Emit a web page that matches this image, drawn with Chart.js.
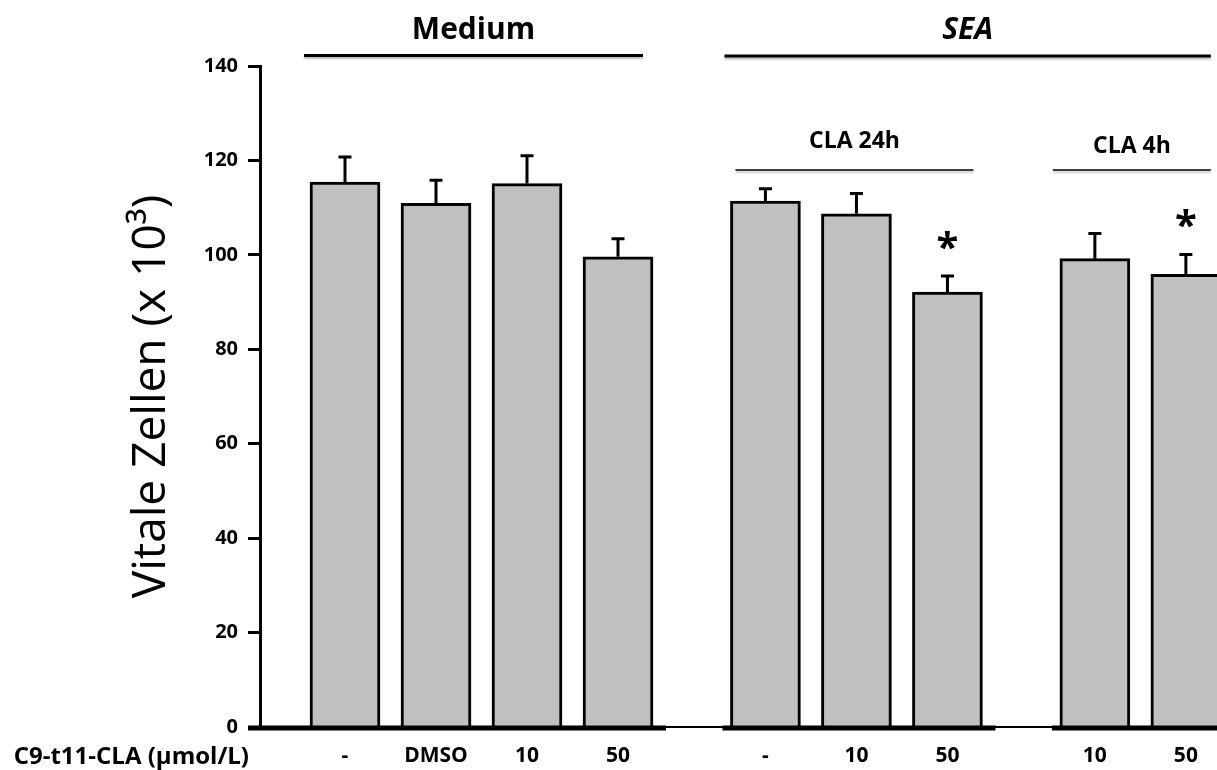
<!DOCTYPE html>
<html>
<head>
<meta charset="utf-8">
<title>Vitale Zellen</title>
<script src="https://cdn.jsdelivr.net/npm/chart.js@4.4.1/dist/chart.umd.min.js"></script>
<style>
  html, body { margin: 0; padding: 0; background: #ffffff; overflow: hidden; }
  #wrap { position: relative; width: 1217px; height: 770px; }
  canvas { display: block; }
</style>
</head>
<body>
<div id="wrap"><canvas id="chart" width="1217" height="770"></canvas></div>
<script>
// C9-t11-CLA dose under each bar
const doseLabels = ['-', 'DMSO', '10', '50', '-', '10', '50', '10', '50'];
// bars per treatment block: Medium | SEA + CLA 24h | SEA + CLA 4h
const blockSizes = [4, 3, 2];
// vital cells (x 10^3): mean and SD
const meanValues = [115.4, 110.9, 115.1, 99.6, 111.4, 108.7, 92.1, 99.2, 95.9];
const sdValues = [5.3, 4.9, 5.9, 3.8, 2.6, 4.3, 3.4, 5.3, 4.2];
// marked with * (significant)
const significant = [false, false, false, false, false, false, true, false, true];
// y axis ticks
const yTicks = [0, 20, 40, 60, 80, 100, 120, 140];
// group headings
const headerTexts = ['Medium', 'SEA', 'CLA 24h', 'CLA 4h'];
const axisCaption = 'C9-t11-CLA (µmol/L)';

// bar slots along the x axis: unit spacing inside a block, wider gap between blocks
const BLOCK_GAP = 0.62;
const xPos = [];
const blockRanges = [];
(function () {
  let cursor = 0, idx = 0;
  blockSizes.forEach(n => {
    blockRanges.push([idx, idx + n - 1]);
    for (let i = 0; i < n; i++) { xPos.push(cursor); cursor += 1; idx++; }
    cursor += BLOCK_GAP;
  });
})();

const FONT = '"Open Sans", "DejaVu Sans", sans-serif';

// heading layout: which bars each heading spans, and how it is styled
const headers = [
  { text: headerTexts[0], from: 0, to: 3, padL: 41, padR: 25, lineY: 55.5, textY: 39, lineW: 3, font: 'bold 30px ' + FONT },
  { text: headerTexts[1], from: 4, to: 8, padL: 41, padR: 25, lineY: 56, textY: 39, lineW: 3, font: 'italic bold 30px ' + FONT },
  { text: headerTexts[2], from: 4, to: 6, padL: 30, padR: 26, lineY: 170, textY: 148, lineW: 1.6, font: 'bold 23px ' + FONT },
  { text: headerTexts[3], from: 7, to: 8, padL: 42, padR: 25, lineY: 170, textY: 153, lineW: 1.6, font: 'bold 23px ' + FONT }
];

const decorations = {
  id: 'decorations',
  afterDatasetsDraw(chart) {
    const ctx = chart.ctx;
    const xs = chart.scales.x;
    const ys = chart.scales.y;
    const area = chart.chartArea;
    const meta = chart.getDatasetMeta(0);

    ctx.save();
    // error bars (upper SD) and significance stars
    ctx.strokeStyle = '#000';
    ctx.fillStyle = '#000';
    ctx.lineWidth = 3;
    ctx.lineCap = 'butt';
    meta.data.forEach((bar, i) => {
      const x = bar.x;
      const yMean = ys.getPixelForValue(meanValues[i]);
      const yTop = ys.getPixelForValue(meanValues[i] + sdValues[i]);
      ctx.beginPath();
      ctx.moveTo(x, yMean);
      ctx.lineTo(x, yTop);
      ctx.moveTo(x - 6.5, yTop);
      ctx.lineTo(x + 6.5, yTop);
      ctx.stroke();
      if (significant[i]) {
        ctx.font = 'bold 40px ' + FONT;
        const m = ctx.measureText('*');
        const cy = yTop - 36;
        ctx.textAlign = 'center';
        ctx.textBaseline = 'alphabetic';
        ctx.fillText('*', x, cy + (m.actualBoundingBoxAscent + m.actualBoundingBoxDescent) / 2 - m.actualBoundingBoxDescent);
      }
    });

    // heavy baseline under each block of bars
    ctx.lineWidth = 5;
    blockRanges.forEach(([a, b], k) => {
      const x1 = k === 0 ? area.left - 12 : xs.getPixelForValue(xPos[a]) - 43;
      const x2 = k === blockRanges.length - 1 ? chart.width : xs.getPixelForValue(xPos[b]) + 48;
      ctx.beginPath();
      ctx.moveTo(x1, area.bottom + 1);
      ctx.lineTo(x2, area.bottom + 1);
      ctx.stroke();
    });

    // group headings with their rules
    headers.forEach(h => {
      const x1 = xs.getPixelForValue(xPos[h.from]) - h.padL;
      const x2 = xs.getPixelForValue(xPos[h.to]) + h.padR;
      ctx.save();
      ctx.shadowColor = 'rgba(0,0,0,0.28)';
      ctx.shadowBlur = 2;
      ctx.shadowOffsetY = 2;
      ctx.lineWidth = h.lineW;
      ctx.beginPath();
      ctx.moveTo(x1, h.lineY);
      ctx.lineTo(x2, h.lineY);
      ctx.stroke();
      ctx.restore();
      ctx.font = h.font;
      ctx.textAlign = 'center';
      ctx.textBaseline = 'alphabetic';
      ctx.fillText(h.text, (x1 + x2) / 2, h.textY);
    });

    // caption for the dose row
    ctx.font = 'bold 24px ' + FONT;
    ctx.textAlign = 'right';
    ctx.textBaseline = 'alphabetic';
    ctx.fillText(axisCaption, 249, 764);
    ctx.restore();
  }
};

new Chart(document.getElementById('chart'), {
  type: 'bar',
  data: {
    datasets: [{
      data: meanValues.map((v, i) => ({ x: xPos[i], y: v })),
      backgroundColor: '#c0c0c0',
      borderColor: '#000000',
      borderWidth: 3,
      borderSkipped: 'start',
      barThickness: 70
    }]
  },
  options: {
    responsive: false,
    animation: false,
    devicePixelRatio: 1,
    layout: { padding: { top: 66, left: 0, right: 0, bottom: 0 } },
    plugins: { legend: { display: false }, tooltip: { enabled: false } },
    scales: {
      x: {
        type: 'linear',
        min: -0.934,
        max: 9.582,
        offset: false,
        grid: { display: false, drawTicks: false },
        border: { display: true, color: '#000', width: 2 },
        afterBuildTicks: s => { s.ticks = xPos.map(v => ({ value: v })); },
        ticks: {
          autoSkip: false,
          maxRotation: 0,
          padding: 16,
          color: '#000',
          font: { family: FONT, size: 21, weight: 'bold' },
          callback: (v, i) => doseLabels[i]
        },
        afterFit: s => { s.height = 43; }
      },
      y: {
        min: 0,
        max: 140,
        afterBuildTicks: s => { s.ticks = yTicks.map(v => ({ value: v })); },
        grid: { display: true, drawOnChartArea: false, drawTicks: true, tickLength: 12, tickWidth: 3, tickColor: '#000' },
        border: { display: true, color: '#000', width: 3 },
        ticks: { padding: 10, color: '#000', font: { family: FONT, size: 20, weight: 'bold' } },
        title: {
          display: true,
          text: 'Vitale Zellen (x 10³)',
          color: '#000',
          font: { family: FONT, size: 46, weight: 'normal' },
          padding: { top: 124, bottom: 0 }
        },
        afterFit: s => { s.width = 260; }
      }
    }
  },
  plugins: [decorations]
});
</script>
</body>
</html>
